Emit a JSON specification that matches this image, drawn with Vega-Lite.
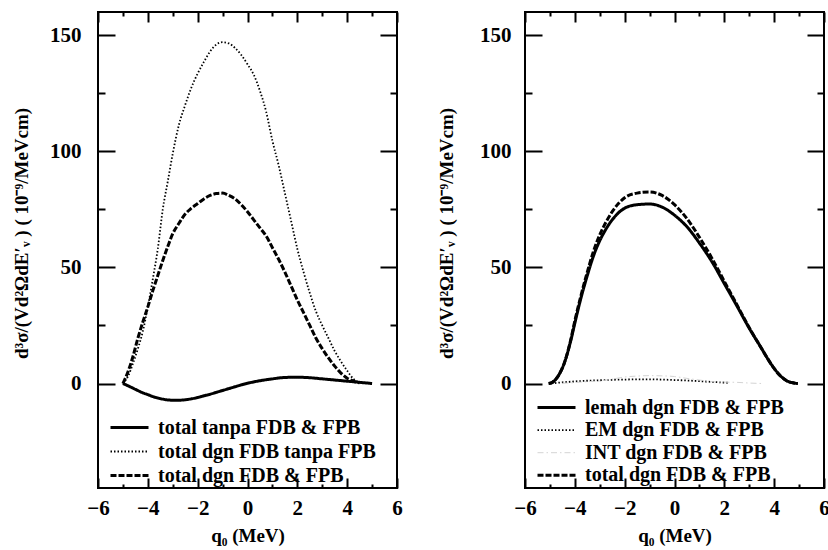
{
  "$schema": "https://vega.github.io/schema/vega-lite/v6.json",
  "background": "white",
  "padding": {"left": 11, "top": 0, "right": 0, "bottom": 0},
  "bounds": "flush",
  "spacing": 128,
  "config": {
    "view": {"stroke": "black", "strokeWidth": 2},
    "axis": {"domain": false, "ticks": false, "grid": true, "gridColor": "black", "gridWidth": 2, "labelOverlap": false, "labelFlush": false, "labelColor": "black", "labelFont": "Liberation Serif", "labelFontSize": 21, "labelFontWeight": "bold", "titleColor": "black", "titleFont": "Liberation Serif", "titleFontWeight": "bold"},
    "legend": {"labelFont": "Liberation Serif", "labelFontSize": 20, "labelFontWeight": "bold", "labelColor": "black", "labelLimit": 0, "symbolType": "stroke", "symbolSize": 1444, "clipHeight": 19, "labelOffset": 8, "padding": 0, "title": null}
  },
  "datasets": {
    "left": [
      {"q0": -5.0, "value": 0, "series": "total dgn FDB tanpa FPB"},
      {"q0": -4.8, "value": 3, "series": "total dgn FDB tanpa FPB"},
      {"q0": -4.6, "value": 8.5, "series": "total dgn FDB tanpa FPB"},
      {"q0": -4.4, "value": 15, "series": "total dgn FDB tanpa FPB"},
      {"q0": -4.2, "value": 22.5, "series": "total dgn FDB tanpa FPB"},
      {"q0": -4.0, "value": 33, "series": "total dgn FDB tanpa FPB"},
      {"q0": -3.8, "value": 45, "series": "total dgn FDB tanpa FPB"},
      {"q0": -3.6, "value": 58, "series": "total dgn FDB tanpa FPB"},
      {"q0": -3.4, "value": 75, "series": "total dgn FDB tanpa FPB"},
      {"q0": -3.2, "value": 87, "series": "total dgn FDB tanpa FPB"},
      {"q0": -3.0, "value": 99, "series": "total dgn FDB tanpa FPB"},
      {"q0": -2.75, "value": 111.5, "series": "total dgn FDB tanpa FPB"},
      {"q0": -2.5, "value": 120, "series": "total dgn FDB tanpa FPB"},
      {"q0": -2.25, "value": 127.5, "series": "total dgn FDB tanpa FPB"},
      {"q0": -2.0, "value": 133.5, "series": "total dgn FDB tanpa FPB"},
      {"q0": -1.75, "value": 138.5, "series": "total dgn FDB tanpa FPB"},
      {"q0": -1.5, "value": 143, "series": "total dgn FDB tanpa FPB"},
      {"q0": -1.25, "value": 146, "series": "total dgn FDB tanpa FPB"},
      {"q0": -1.0, "value": 147, "series": "total dgn FDB tanpa FPB"},
      {"q0": -0.75, "value": 146.5, "series": "total dgn FDB tanpa FPB"},
      {"q0": -0.5, "value": 144.5, "series": "total dgn FDB tanpa FPB"},
      {"q0": -0.25, "value": 141.5, "series": "total dgn FDB tanpa FPB"},
      {"q0": 0.0, "value": 137.5, "series": "total dgn FDB tanpa FPB"},
      {"q0": 0.25, "value": 133, "series": "total dgn FDB tanpa FPB"},
      {"q0": 0.5, "value": 126, "series": "total dgn FDB tanpa FPB"},
      {"q0": 0.75, "value": 117, "series": "total dgn FDB tanpa FPB"},
      {"q0": 1.0, "value": 104.5, "series": "total dgn FDB tanpa FPB"},
      {"q0": 1.25, "value": 94, "series": "total dgn FDB tanpa FPB"},
      {"q0": 1.5, "value": 82, "series": "total dgn FDB tanpa FPB"},
      {"q0": 1.75, "value": 70, "series": "total dgn FDB tanpa FPB"},
      {"q0": 2.0, "value": 58, "series": "total dgn FDB tanpa FPB"},
      {"q0": 2.25, "value": 48, "series": "total dgn FDB tanpa FPB"},
      {"q0": 2.5, "value": 39, "series": "total dgn FDB tanpa FPB"},
      {"q0": 2.75, "value": 31, "series": "total dgn FDB tanpa FPB"},
      {"q0": 3.0, "value": 25, "series": "total dgn FDB tanpa FPB"},
      {"q0": 3.25, "value": 19.5, "series": "total dgn FDB tanpa FPB"},
      {"q0": 3.5, "value": 14, "series": "total dgn FDB tanpa FPB"},
      {"q0": 3.75, "value": 9.5, "series": "total dgn FDB tanpa FPB"},
      {"q0": 4.0, "value": 5.5, "series": "total dgn FDB tanpa FPB"},
      {"q0": 4.25, "value": 2, "series": "total dgn FDB tanpa FPB"},
      {"q0": 4.5, "value": 0.3, "series": "total dgn FDB tanpa FPB"},

      {"q0": -5.0, "value": 0, "series": "total dgn FDB & FPB"},
      {"q0": -4.8, "value": 5, "series": "total dgn FDB & FPB"},
      {"q0": -4.6, "value": 11.5, "series": "total dgn FDB & FPB"},
      {"q0": -4.4, "value": 19.5, "series": "total dgn FDB & FPB"},
      {"q0": -4.2, "value": 26.5, "series": "total dgn FDB & FPB"},
      {"q0": -4.0, "value": 33, "series": "total dgn FDB & FPB"},
      {"q0": -3.8, "value": 40, "series": "total dgn FDB & FPB"},
      {"q0": -3.6, "value": 46.5, "series": "total dgn FDB & FPB"},
      {"q0": -3.4, "value": 53, "series": "total dgn FDB & FPB"},
      {"q0": -3.2, "value": 59, "series": "total dgn FDB & FPB"},
      {"q0": -3.0, "value": 64.5, "series": "total dgn FDB & FPB"},
      {"q0": -2.75, "value": 69, "series": "total dgn FDB & FPB"},
      {"q0": -2.5, "value": 73, "series": "total dgn FDB & FPB"},
      {"q0": -2.25, "value": 75.5, "series": "total dgn FDB & FPB"},
      {"q0": -2.0, "value": 77.5, "series": "total dgn FDB & FPB"},
      {"q0": -1.75, "value": 79.5, "series": "total dgn FDB & FPB"},
      {"q0": -1.5, "value": 81, "series": "total dgn FDB & FPB"},
      {"q0": -1.25, "value": 81.8, "series": "total dgn FDB & FPB"},
      {"q0": -1.0, "value": 82, "series": "total dgn FDB & FPB"},
      {"q0": -0.75, "value": 81, "series": "total dgn FDB & FPB"},
      {"q0": -0.5, "value": 79.5, "series": "total dgn FDB & FPB"},
      {"q0": -0.25, "value": 77, "series": "total dgn FDB & FPB"},
      {"q0": 0.0, "value": 74, "series": "total dgn FDB & FPB"},
      {"q0": 0.25, "value": 70.5, "series": "total dgn FDB & FPB"},
      {"q0": 0.5, "value": 67, "series": "total dgn FDB & FPB"},
      {"q0": 0.75, "value": 63.5, "series": "total dgn FDB & FPB"},
      {"q0": 1.0, "value": 58.5, "series": "total dgn FDB & FPB"},
      {"q0": 1.25, "value": 53.5, "series": "total dgn FDB & FPB"},
      {"q0": 1.5, "value": 48, "series": "total dgn FDB & FPB"},
      {"q0": 1.75, "value": 42, "series": "total dgn FDB & FPB"},
      {"q0": 2.0, "value": 36, "series": "total dgn FDB & FPB"},
      {"q0": 2.25, "value": 30.5, "series": "total dgn FDB & FPB"},
      {"q0": 2.5, "value": 25, "series": "total dgn FDB & FPB"},
      {"q0": 2.75, "value": 19.5, "series": "total dgn FDB & FPB"},
      {"q0": 3.0, "value": 15, "series": "total dgn FDB & FPB"},
      {"q0": 3.25, "value": 11, "series": "total dgn FDB & FPB"},
      {"q0": 3.5, "value": 7.5, "series": "total dgn FDB & FPB"},
      {"q0": 3.75, "value": 4.5, "series": "total dgn FDB & FPB"},
      {"q0": 4.0, "value": 2.3, "series": "total dgn FDB & FPB"},
      {"q0": 4.25, "value": 1, "series": "total dgn FDB & FPB"},
      {"q0": 4.5, "value": 0.3, "series": "total dgn FDB & FPB"},

      {"q0": -5.0, "value": 0, "series": "total tanpa FDB & FPB"},
      {"q0": -4.75, "value": -1.2, "series": "total tanpa FDB & FPB"},
      {"q0": -4.5, "value": -2.5, "series": "total tanpa FDB & FPB"},
      {"q0": -4.25, "value": -3.8, "series": "total tanpa FDB & FPB"},
      {"q0": -4.0, "value": -4.8, "series": "total tanpa FDB & FPB"},
      {"q0": -3.75, "value": -5.8, "series": "total tanpa FDB & FPB"},
      {"q0": -3.5, "value": -6.5, "series": "total tanpa FDB & FPB"},
      {"q0": -3.25, "value": -7, "series": "total tanpa FDB & FPB"},
      {"q0": -3.0, "value": -7.2, "series": "total tanpa FDB & FPB"},
      {"q0": -2.75, "value": -7.2, "series": "total tanpa FDB & FPB"},
      {"q0": -2.5, "value": -7, "series": "total tanpa FDB & FPB"},
      {"q0": -2.25, "value": -6.6, "series": "total tanpa FDB & FPB"},
      {"q0": -2.0, "value": -6, "series": "total tanpa FDB & FPB"},
      {"q0": -1.75, "value": -5.3, "series": "total tanpa FDB & FPB"},
      {"q0": -1.5, "value": -4.6, "series": "total tanpa FDB & FPB"},
      {"q0": -1.25, "value": -3.8, "series": "total tanpa FDB & FPB"},
      {"q0": -1.0, "value": -3, "series": "total tanpa FDB & FPB"},
      {"q0": -0.75, "value": -2.2, "series": "total tanpa FDB & FPB"},
      {"q0": -0.5, "value": -1.4, "series": "total tanpa FDB & FPB"},
      {"q0": -0.25, "value": -0.6, "series": "total tanpa FDB & FPB"},
      {"q0": 0.0, "value": 0.1, "series": "total tanpa FDB & FPB"},
      {"q0": 0.5, "value": 1.2, "series": "total tanpa FDB & FPB"},
      {"q0": 1.0, "value": 2.0, "series": "total tanpa FDB & FPB"},
      {"q0": 1.5, "value": 2.6, "series": "total tanpa FDB & FPB"},
      {"q0": 2.0, "value": 2.7, "series": "total tanpa FDB & FPB"},
      {"q0": 2.5, "value": 2.5, "series": "total tanpa FDB & FPB"},
      {"q0": 3.0, "value": 2.0, "series": "total tanpa FDB & FPB"},
      {"q0": 3.5, "value": 1.5, "series": "total tanpa FDB & FPB"},
      {"q0": 4.0, "value": 1.0, "series": "total tanpa FDB & FPB"},
      {"q0": 4.5, "value": 0.5, "series": "total tanpa FDB & FPB"},
      {"q0": 5.0, "value": 0, "series": "total tanpa FDB & FPB"}
    ],
    "right": [
      {"q0": -5.05, "value": 0, "series": "total dgn FDB & FPB"},
      {"q0": -4.9, "value": 0.5, "series": "total dgn FDB & FPB"},
      {"q0": -4.75, "value": 2, "series": "total dgn FDB & FPB"},
      {"q0": -4.6, "value": 4.5, "series": "total dgn FDB & FPB"},
      {"q0": -4.45, "value": 8, "series": "total dgn FDB & FPB"},
      {"q0": -4.3, "value": 13, "series": "total dgn FDB & FPB"},
      {"q0": -4.15, "value": 19.5, "series": "total dgn FDB & FPB"},
      {"q0": -4.0, "value": 27, "series": "total dgn FDB & FPB"},
      {"q0": -3.75, "value": 38, "series": "total dgn FDB & FPB"},
      {"q0": -3.5, "value": 48, "series": "total dgn FDB & FPB"},
      {"q0": -3.25, "value": 57, "series": "total dgn FDB & FPB"},
      {"q0": -3.0, "value": 64, "series": "total dgn FDB & FPB"},
      {"q0": -2.75, "value": 69.5, "series": "total dgn FDB & FPB"},
      {"q0": -2.5, "value": 74, "series": "total dgn FDB & FPB"},
      {"q0": -2.25, "value": 77.5, "series": "total dgn FDB & FPB"},
      {"q0": -2.0, "value": 80, "series": "total dgn FDB & FPB"},
      {"q0": -1.5, "value": 82, "series": "total dgn FDB & FPB"},
      {"q0": -1.0, "value": 82.5, "series": "total dgn FDB & FPB"},
      {"q0": -0.5, "value": 81, "series": "total dgn FDB & FPB"},
      {"q0": 0.0, "value": 77, "series": "total dgn FDB & FPB"},
      {"q0": 0.5, "value": 71, "series": "total dgn FDB & FPB"},
      {"q0": 1.0, "value": 63, "series": "total dgn FDB & FPB"},
      {"q0": 1.5, "value": 54, "series": "total dgn FDB & FPB"},
      {"q0": 2.0, "value": 44, "series": "total dgn FDB & FPB"},
      {"q0": 2.5, "value": 34, "series": "total dgn FDB & FPB"},
      {"q0": 3.0, "value": 24, "series": "total dgn FDB & FPB"},
      {"q0": 3.5, "value": 15, "series": "total dgn FDB & FPB"},
      {"q0": 3.75, "value": 10.5, "series": "total dgn FDB & FPB"},
      {"q0": 4.0, "value": 6.5, "series": "total dgn FDB & FPB"},
      {"q0": 4.25, "value": 3.3, "series": "total dgn FDB & FPB"},
      {"q0": 4.5, "value": 1.2, "series": "total dgn FDB & FPB"},
      {"q0": 4.75, "value": 0.3, "series": "total dgn FDB & FPB"},
      {"q0": 4.95, "value": 0, "series": "total dgn FDB & FPB"},

      {"q0": -5.05, "value": 0, "series": "lemah dgn FDB & FPB"},
      {"q0": -4.9, "value": 0.5, "series": "lemah dgn FDB & FPB"},
      {"q0": -4.75, "value": 2, "series": "lemah dgn FDB & FPB"},
      {"q0": -4.6, "value": 4.5, "series": "lemah dgn FDB & FPB"},
      {"q0": -4.45, "value": 8, "series": "lemah dgn FDB & FPB"},
      {"q0": -4.3, "value": 13, "series": "lemah dgn FDB & FPB"},
      {"q0": -4.15, "value": 19, "series": "lemah dgn FDB & FPB"},
      {"q0": -4.0, "value": 26, "series": "lemah dgn FDB & FPB"},
      {"q0": -3.75, "value": 37, "series": "lemah dgn FDB & FPB"},
      {"q0": -3.5, "value": 46.5, "series": "lemah dgn FDB & FPB"},
      {"q0": -3.25, "value": 55, "series": "lemah dgn FDB & FPB"},
      {"q0": -3.0, "value": 61.5, "series": "lemah dgn FDB & FPB"},
      {"q0": -2.75, "value": 66.5, "series": "lemah dgn FDB & FPB"},
      {"q0": -2.5, "value": 70.5, "series": "lemah dgn FDB & FPB"},
      {"q0": -2.25, "value": 73.5, "series": "lemah dgn FDB & FPB"},
      {"q0": -2.0, "value": 75.5, "series": "lemah dgn FDB & FPB"},
      {"q0": -1.5, "value": 77, "series": "lemah dgn FDB & FPB"},
      {"q0": -1.0, "value": 77.3, "series": "lemah dgn FDB & FPB"},
      {"q0": -0.5, "value": 76, "series": "lemah dgn FDB & FPB"},
      {"q0": 0.0, "value": 72.5, "series": "lemah dgn FDB & FPB"},
      {"q0": 0.5, "value": 67.5, "series": "lemah dgn FDB & FPB"},
      {"q0": 1.0, "value": 60.5, "series": "lemah dgn FDB & FPB"},
      {"q0": 1.5, "value": 52.5, "series": "lemah dgn FDB & FPB"},
      {"q0": 2.0, "value": 43, "series": "lemah dgn FDB & FPB"},
      {"q0": 2.5, "value": 33.5, "series": "lemah dgn FDB & FPB"},
      {"q0": 3.0, "value": 23.8, "series": "lemah dgn FDB & FPB"},
      {"q0": 3.5, "value": 15, "series": "lemah dgn FDB & FPB"},
      {"q0": 3.75, "value": 10.5, "series": "lemah dgn FDB & FPB"},
      {"q0": 4.0, "value": 6.5, "series": "lemah dgn FDB & FPB"},
      {"q0": 4.25, "value": 3.3, "series": "lemah dgn FDB & FPB"},
      {"q0": 4.5, "value": 1.2, "series": "lemah dgn FDB & FPB"},
      {"q0": 4.75, "value": 0.3, "series": "lemah dgn FDB & FPB"},
      {"q0": 4.95, "value": 0, "series": "lemah dgn FDB & FPB"},

      {"q0": -4.8, "value": 0.2, "series": "EM dgn FDB & FPB"},
      {"q0": -4.5, "value": 0.5, "series": "EM dgn FDB & FPB"},
      {"q0": -4.0, "value": 0.9, "series": "EM dgn FDB & FPB"},
      {"q0": -3.5, "value": 1.2, "series": "EM dgn FDB & FPB"},
      {"q0": -3.0, "value": 1.4, "series": "EM dgn FDB & FPB"},
      {"q0": -2.5, "value": 1.6, "series": "EM dgn FDB & FPB"},
      {"q0": -2.0, "value": 1.7, "series": "EM dgn FDB & FPB"},
      {"q0": -1.5, "value": 1.8, "series": "EM dgn FDB & FPB"},
      {"q0": -1.0, "value": 1.8, "series": "EM dgn FDB & FPB"},
      {"q0": -0.5, "value": 1.7, "series": "EM dgn FDB & FPB"},
      {"q0": 0.0, "value": 1.5, "series": "EM dgn FDB & FPB"},
      {"q0": 0.5, "value": 1.3, "series": "EM dgn FDB & FPB"},
      {"q0": 1.0, "value": 1.0, "series": "EM dgn FDB & FPB"},
      {"q0": 1.5, "value": 0.7, "series": "EM dgn FDB & FPB"},
      {"q0": 2.0, "value": 0.4, "series": "EM dgn FDB & FPB"},
      {"q0": 2.2, "value": 0.3, "series": "EM dgn FDB & FPB"},

      {"q0": -4.5, "value": 0.1, "series": "INT dgn FDB & FPB"},
      {"q0": -4.0, "value": 0.4, "series": "INT dgn FDB & FPB"},
      {"q0": -3.5, "value": 0.8, "series": "INT dgn FDB & FPB"},
      {"q0": -3.0, "value": 1.1, "series": "INT dgn FDB & FPB"},
      {"q0": -2.5, "value": 1.9, "series": "INT dgn FDB & FPB"},
      {"q0": -2.0, "value": 2.8, "series": "INT dgn FDB & FPB"},
      {"q0": -1.5, "value": 3.2, "series": "INT dgn FDB & FPB"},
      {"q0": -1.0, "value": 3.4, "series": "INT dgn FDB & FPB"},
      {"q0": -0.5, "value": 3.3, "series": "INT dgn FDB & FPB"},
      {"q0": 0.0, "value": 3.0, "series": "INT dgn FDB & FPB"},
      {"q0": 0.5, "value": 2.2, "series": "INT dgn FDB & FPB"},
      {"q0": 1.0, "value": 1.5, "series": "INT dgn FDB & FPB"},
      {"q0": 1.5, "value": 0.8, "series": "INT dgn FDB & FPB"},
      {"q0": 2.0, "value": 0.6, "series": "INT dgn FDB & FPB"},
      {"q0": 2.5, "value": 0.5, "series": "INT dgn FDB & FPB"},
      {"q0": 3.0, "value": 0.2, "series": "INT dgn FDB & FPB"},
      {"q0": 3.5, "value": 0, "series": "INT dgn FDB & FPB"}
    ]
  },
  "resolve": {"scale": {"color": "independent", "strokeDash": "independent", "strokeWidth": "independent"}},
  "hconcat": [
    {
      "width": 299,
      "height": 476,
      "data": {"name": "left"},
      "mark": {"type": "line", "interpolate": "monotone"},
      "encoding": {
        "x": {"field": "q0", "type": "quantitative", "scale": {"domain": [-6, 6], "nice": false, "zero": false},
          "axis": {"tickCount": 12,
            "gridDash": {"condition": {"test": "datum.value % 2 === 0", "value": [10, 456, 10, 1000]}, "value": [4, 468, 4, 1000]},
            "labelOpacity": {"condition": {"test": "datum.value % 2 !== 0", "value": 0}, "value": 1},
            "labelPadding": 9, "title": "q₀ (MeV)", "titleFontSize": 19, "titlePadding": 8}},
        "y": {"field": "value", "type": "quantitative", "scale": {"domain": [-45, 160], "nice": false, "zero": false},
          "axis": {"tickCount": 41,
            "gridDash": {"condition": [{"test": "datum.value < 0", "value": [0, 1000]}, {"test": "datum.value % 50 === 0", "value": [17, 265, 17, 1000]}, {"test": "datum.value % 25 === 0", "value": [7, 285, 7, 1000]}], "value": [0, 1000]},
            "labelOpacity": {"condition": {"test": "datum.value % 50 !== 0", "value": 0}, "value": 1},
            "labelPadding": 17, "title": "d³σ/(Vd²ΩdE′ᵥ ) ( 10⁻⁹/MeVcm)", "titleFontSize": 19, "titlePadding": 17, "titleY": 221}},
        "color": {"field": "series", "type": "nominal",
          "scale": {"domain": ["total tanpa FDB & FPB", "total dgn FDB tanpa FPB", "total dgn FDB & FPB"], "range": ["black", "black", "black"]},
          "legend": {"orient": "none", "legendX": 11, "legendY": 406, "rowPadding": 3}},
        "strokeDash": {"field": "series", "type": "nominal",
          "scale": {"domain": ["total tanpa FDB & FPB", "total dgn FDB tanpa FPB", "total dgn FDB & FPB"], "range": [[1, 0], [1.5, 2], [6, 2]]}},
        "strokeWidth": {"field": "series", "type": "nominal",
          "scale": {"type": "ordinal", "domain": ["total tanpa FDB & FPB", "total dgn FDB tanpa FPB", "total dgn FDB & FPB"], "range": [3, 1.8, 3]}}
      }
    },
    {
      "width": 299,
      "height": 476,
      "data": {"name": "right"},
      "mark": {"type": "line", "interpolate": "monotone"},
      "encoding": {
        "x": {"field": "q0", "type": "quantitative", "scale": {"domain": [-6, 6], "nice": false, "zero": false},
          "axis": {"tickCount": 12,
            "gridDash": {"condition": {"test": "datum.value % 2 === 0", "value": [10, 456, 10, 1000]}, "value": [4, 468, 4, 1000]},
            "labelOpacity": {"condition": {"test": "datum.value % 2 !== 0", "value": 0}, "value": 1},
            "labelPadding": 9, "title": "q₀ (MeV)", "titleFontSize": 19, "titlePadding": 8}},
        "y": {"field": "value", "type": "quantitative", "scale": {"domain": [-45, 160], "nice": false, "zero": false},
          "axis": {"tickCount": 41,
            "gridDash": {"condition": [{"test": "datum.value < 0", "value": [0, 1000]}, {"test": "datum.value % 50 === 0", "value": [17, 265, 17, 1000]}, {"test": "datum.value % 25 === 0", "value": [7, 285, 7, 1000]}], "value": [0, 1000]},
            "labelOpacity": {"condition": {"test": "datum.value % 50 !== 0", "value": 0}, "value": 1},
            "labelPadding": 14, "title": "d³σ/(Vd²ΩdE′ᵥ ) ( 10⁻⁹/MeVcm)", "titleFontSize": 19, "titlePadding": 22, "titleY": 221}},
        "color": {"field": "series", "type": "nominal",
          "scale": {"domain": ["lemah dgn FDB & FPB", "EM dgn FDB & FPB", "INT dgn FDB & FPB", "total dgn FDB & FPB"], "range": ["black", "black", "#d4d4d4", "black"]},
          "legend": {"orient": "none", "legendX": 11, "legendY": 386, "rowPadding": 1.6}},
        "strokeDash": {"field": "series", "type": "nominal",
          "scale": {"domain": ["lemah dgn FDB & FPB", "EM dgn FDB & FPB", "INT dgn FDB & FPB", "total dgn FDB & FPB"], "range": [[1, 0], [1.5, 2], [6, 3, 1.5, 3], [6, 2]]}},
        "strokeWidth": {"field": "series", "type": "nominal",
          "scale": {"type": "ordinal", "domain": ["lemah dgn FDB & FPB", "EM dgn FDB & FPB", "INT dgn FDB & FPB", "total dgn FDB & FPB"], "range": [3, 1.8, 1, 3]}}
      }
    }
  ]
}
